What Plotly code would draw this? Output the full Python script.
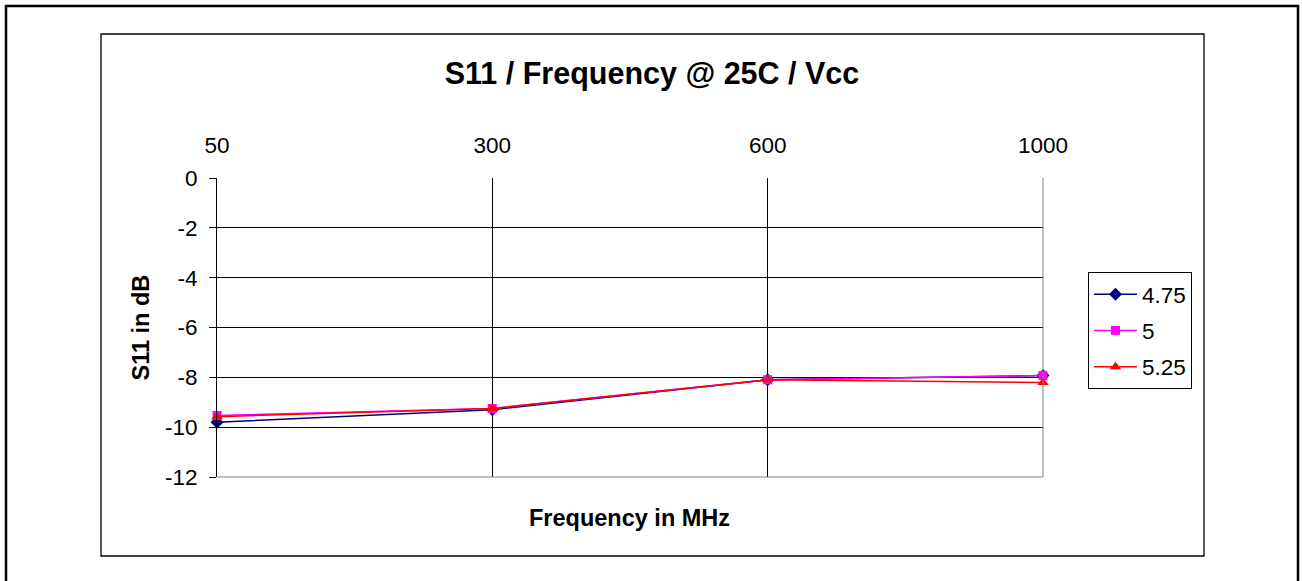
import plotly.graph_objects as go

# ---- data ----
freq_labels = ["50", "300", "600", "1000"]
s11_475 = [-9.8, -9.3, -8.1, -7.93]
s11_500 = [-9.53, -9.25, -8.1, -7.93]
s11_525 = [-9.58, -9.25, -8.1, -8.21]
series_names = ["4.75", "5", "5.25"]
y_ticks = [0, -2, -4, -6, -8, -10, -12]

W, H = 1302, 581
PL, PR, PT, PB = 217, 1043, 178, 477  # plot area pixels


def px_x(p):
    return (p - PL) / (PR - PL)


def px_y(p):
    return (PB - p) / (PB - PT)


FONT = "Liberation Sans, Arial, sans-serif"
TICK_SIZE = 22.5

fig = go.Figure()
styles = [
    dict(color="#000080", symbol="diamond", size=10),
    dict(color="#FF00FF", symbol="square", size=9),
    dict(color="#FF0000", symbol="triangle-up", size=10),
]
for name, vals, st in zip(series_names, [s11_475, s11_500, s11_525], styles):
    fig.add_trace(go.Scatter(
        x=freq_labels, y=vals, name=name, mode="lines+markers",
        legendgroup=name,
        line=dict(color=st["color"], width=1.5),
        marker=dict(color=st["color"], symbol=st["symbol"], size=st["size"],
                    line=dict(width=0)),
        cliponaxis=False,
    ))

fig.update_layout(
    width=W, height=H, autosize=False,
    margin=dict(l=PL, r=W - PR, t=PT, b=H - PB),
    paper_bgcolor="white", plot_bgcolor="white",
    font=dict(family=FONT, color="black", size=TICK_SIZE),
    title=dict(text="<b>S11 / Frequency @ 25C / Vcc</b>",
               font=dict(size=30.5, family=FONT, color="black"),
               x=652 / W, xanchor="center", xref="container",
               y=1 - 73 / H, yanchor="middle", yref="container"),
    showlegend=True,
    legend=dict(
        x=px_x(1088), xanchor="left", y=px_y(272), yanchor="top",
        bordercolor="black", borderwidth=1, bgcolor="white",
        font=dict(size=TICK_SIZE, family=FONT, color="black"),
        tracegroupgap=4, itemwidth=43,
    ),
)

fig.update_xaxes(
    type="category", categoryorder="array", categoryarray=freq_labels,
    range=[0, 3], side="top",
    showgrid=True, gridcolor="black", gridwidth=1,
    showline=False, zeroline=False,
    ticks="outside", ticklen=15, tickcolor="rgba(0,0,0,0)",
    tickfont=dict(size=TICK_SIZE, family=FONT, color="black"),
)
fig.update_yaxes(
    range=[-12, 0], tickvals=y_ticks, ticktext=[str(v) for v in y_ticks],
    showgrid=True, gridcolor="black", gridwidth=1,
    zeroline=False, showline=True, linecolor="black", linewidth=1,
    ticks="outside", ticklen=7, tickcolor="black",
    ticklabelstandoff=7,
    tickfont=dict(size=TICK_SIZE, family=FONT, color="black"),
)

shapes = [
    # outer page frame (bottom edge off-page)
    dict(type="rect", xref="paper", yref="paper",
         x0=px_x(6), x1=px_x(1298), y0=px_y(600), y1=px_y(6),
         line=dict(color="black", width=2.5), layer="below"),
    # chart area box
    dict(type="rect", xref="paper", yref="paper",
         x0=px_x(101), x1=px_x(1204), y0=px_y(556), y1=px_y(34),
         line=dict(color="black", width=1.3), layer="below"),
    # plot area bottom edge (gray)
    dict(type="line", xref="paper", yref="paper",
         x0=0, x1=1, y0=0, y1=0, line=dict(color="#808080", width=1)),
    # plot area right edge
    dict(type="line", xref="paper", yref="paper",
         x0=1, x1=1, y0=0, y1=1, line=dict(color="#808080", width=1)),
]
fig.update_layout(shapes=shapes)

fig.add_annotation(text="<b>S11 in dB</b>", xref="paper", yref="paper",
                   x=px_x(140), y=0.5, textangle=-90, showarrow=False,
                   xanchor="center", yanchor="middle",
                   font=dict(size=23.5, family=FONT, color="black"))
fig.add_annotation(text="<b>Frequency in MHz</b>", xref="paper", yref="paper",
                   x=px_x(629), y=px_y(518), showarrow=False,
                   xanchor="center", yanchor="middle",
                   font=dict(size=23.5, family=FONT, color="black"))

fig.write_html("out.html",
               config={"displayModeBar": False},
               post_script="document.body.style.margin='0';"
                           "document.body.style.overflow='hidden';")
